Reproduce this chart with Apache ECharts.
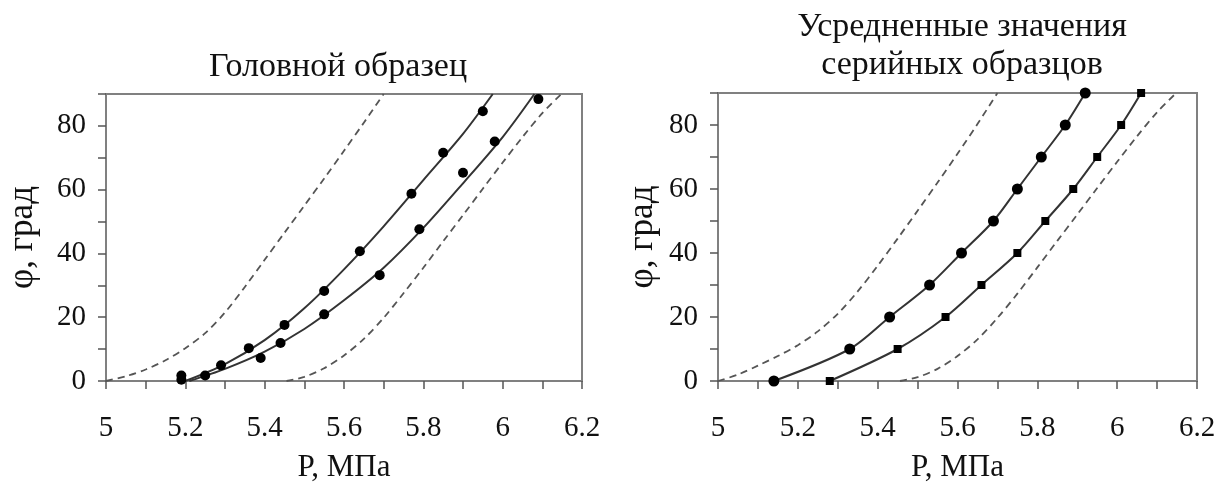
<!DOCTYPE html>
<html>
<head>
<meta charset="utf-8">
<script src="https://cdn.jsdelivr.net/npm/echarts@6/dist/echarts.min.js"></script>
<style>
    html, body { margin: 0; padding: 0; background: #fff; }
    #chart { width: 1223px; height: 488px; }
</style>
</head>
<body>
<div id="chart"></div>
<script>
    // Головной образец: experimental points [P, φ]
    const headUpperPts = [[5.19, 1.7], [5.19, 0.4], [5.29, 4.9], [5.36, 10.3], [5.45, 17.6],
        [5.55, 28.2], [5.64, 40.7], [5.77, 58.7], [5.85, 71.6], [5.95, 84.6]];
    const headLowerPts = [[5.25, 1.7], [5.39, 7.2], [5.44, 11.9], [5.55, 20.9], [5.69, 33.2],
        [5.79, 47.6], [5.90, 65.3], [5.98, 75.1], [6.09, 88.4]];
    // fitted curves
    const headUpperFit = [[5.20, 0], [5.30, 5.3], [5.40, 12.8], [5.50, 22.8], [5.60, 35],
        [5.70, 48.5], [5.80, 63], [5.90, 77.5], [5.975, 90]];
    const headLowerFit = [[5.21, 0], [5.30, 3.8], [5.40, 9.2], [5.50, 16.3], [5.60, 25.3],
        [5.70, 35.5], [5.80, 48], [5.90, 62], [6.00, 76.5], [6.08, 90]];
    // dashed bounds
    const headDashLeft = [[5.00, 0], [5.05, 1.5], [5.10, 3.6], [5.15, 6.5], [5.20, 10.3],
        [5.25, 15], [5.30, 21.5], [5.35, 29.5], [5.40, 38], [5.45, 46.5], [5.50, 55],
        [5.55, 63.5], [5.60, 72.2], [5.65, 81], [5.70, 90]];
    const headDashRight = [[5.455, 0], [5.50, 1.3], [5.55, 4], [5.60, 8], [5.65, 13.2],
        [5.70, 19.8], [5.75, 27.5], [5.80, 35.5], [5.85, 43.8], [5.90, 52], [5.95, 60.3],
        [6.00, 68.5], [6.05, 76.5], [6.10, 84], [6.148, 90]];

    // Усредненные значения серийных образцов
    const serUpper = [[5.14, 0], [5.33, 10], [5.43, 20], [5.53, 30], [5.61, 40],
        [5.69, 50], [5.75, 60], [5.81, 70], [5.87, 80], [5.92, 90]];
    const serLower = [[5.28, 0], [5.45, 10], [5.57, 20], [5.66, 30], [5.75, 40],
        [5.82, 50], [5.89, 60], [5.95, 70], [6.01, 80], [6.06, 90]];
    const serDashLeft = [[5.00, 0], [5.05, 2], [5.10, 4.8], [5.15, 7.8], [5.20, 11.2],
        [5.25, 15.5], [5.30, 21], [5.35, 28], [5.40, 36], [5.45, 44.5], [5.50, 53.2],
        [5.55, 62], [5.60, 71], [5.65, 80.3], [5.70, 90]];
    const serDashRight = [[5.456, 0], [5.50, 1.2], [5.55, 3.8], [5.60, 7.8], [5.65, 13],
        [5.70, 19.7], [5.75, 27.3], [5.80, 35.5], [5.85, 43.8], [5.90, 52], [5.95, 60.3],
        [6.00, 68.5], [6.05, 76.5], [6.10, 84], [6.148, 90]];

    const titleLeft = 'Головной образец';
    const titleRight = 'Усредненные значения\nсерийных образцов';
    const xName = 'P, МПа';
    const yName = 'φ, град';

    const font = 'Liberation Serif, Times New Roman, serif';
    const axisGray = '#808080';
    const textColor = '#111';

    const xAxisCfg = (gridIndex) => ({
        gridIndex,
        type: 'value',
        min: 5,
        max: 6.2,
        interval: 0.1,
        name: xName,
        nameLocation: 'middle',
        nameGap: 71,
        nameTextStyle: { fontFamily: font, fontSize: 31, color: textColor },
        axisLine: { show: true, lineStyle: { color: axisGray, width: 2 } },
        axisTick: { show: true, length: 8, lineStyle: { color: '#555', width: 1.5 } },
        splitLine: { show: false },
        axisLabel: {
            margin: 33,
            fontFamily: font,
            fontSize: 29,
            color: textColor,
            showMinLabel: true,
            showMaxLabel: true,
            formatter: v => {
                const r = Math.round(v * 10);
                return r % 2 ? '' : String(r / 10);
            }
        }
    });

    const yAxisCfg = (gridIndex, nameGap) => ({
        gridIndex,
        type: 'value',
        min: 0,
        max: 90,
        interval: 10,
        name: yName,
        nameLocation: 'middle',
        nameGap,
        nameRotate: 90,
        nameTextStyle: { fontFamily: font, fontSize: 35, color: textColor },
        axisLine: { show: true, lineStyle: { color: axisGray, width: 2 } },
        axisTick: { show: true, length: 8, lineStyle: { color: '#555', width: 1.5 } },
        splitLine: { show: false },
        axisLabel: {
            margin: 20,
            fontFamily: font,
            fontSize: 29,
            color: textColor,
            formatter: v => (v % 20 || v === 90) ? '' : String(v)
        }
    });

    const solid = (data, xi, extra) => Object.assign({
        type: 'line',
        xAxisIndex: xi,
        yAxisIndex: xi,
        data,
        smooth: 0.3,
        showSymbol: false,
        lineStyle: { color: '#333', width: 2 },
        z: 3
    }, extra || {});

    const dashed = (data, xi) => ({
        type: 'line',
        xAxisIndex: xi,
        yAxisIndex: xi,
        data,
        smooth: 0.3,
        showSymbol: false,
        lineStyle: { color: '#555', width: 1.8, type: [7, 5] },
        z: 2
    });

    const dots = (data, xi) => ({
        type: 'scatter',
        xAxisIndex: xi,
        yAxisIndex: xi,
        data,
        symbol: 'circle',
        symbolSize: 10,
        itemStyle: { color: '#000', opacity: 1 },
        z: 4
    });

    const option = {
        animation: false,
        backgroundColor: '#fff',
        grid: [
            { left: 106, top: 94, width: 476, height: 289, show: true, borderColor: axisGray, borderWidth: 2, backgroundColor: 'transparent' },
            { left: 718, top: 93, width: 479, height: 290, show: true, borderColor: axisGray, borderWidth: 2, backgroundColor: 'transparent' }
        ],
        xAxis: [xAxisCfg(0), xAxisCfg(1)],
        yAxis: [yAxisCfg(0, 66), yAxisCfg(1, 58)],
        graphic: [
            {
                type: 'text', x: 338, y: 67,
                style: { text: titleLeft, font: '34px ' + font, fill: textColor, textAlign: 'center', textVerticalAlign: 'middle' }
            },
            {
                type: 'text', x: 962, y: 46,
                style: { text: titleRight, font: '34px ' + font, lineHeight: 38, fill: textColor, textAlign: 'center', textVerticalAlign: 'middle' }
            }
        ],
        series: [
            dashed(headDashLeft, 0),
            dashed(headDashRight, 0),
            solid(headUpperFit, 0),
            solid(headLowerFit, 0),
            dots(headUpperPts, 0),
            dots(headLowerPts, 0),
            dashed(serDashLeft, 1),
            dashed(serDashRight, 1),
            solid(serUpper, 1, { showSymbol: true, symbol: 'circle', symbolSize: 11, itemStyle: { color: '#000' } }),
            solid(serLower, 1, { showSymbol: true, symbol: 'rect', symbolSize: 8, itemStyle: { color: '#000' } })
        ]
    };

    const myChart = echarts.init(document.getElementById('chart'));
    myChart.setOption(option);
</script>
</body>
</html>
